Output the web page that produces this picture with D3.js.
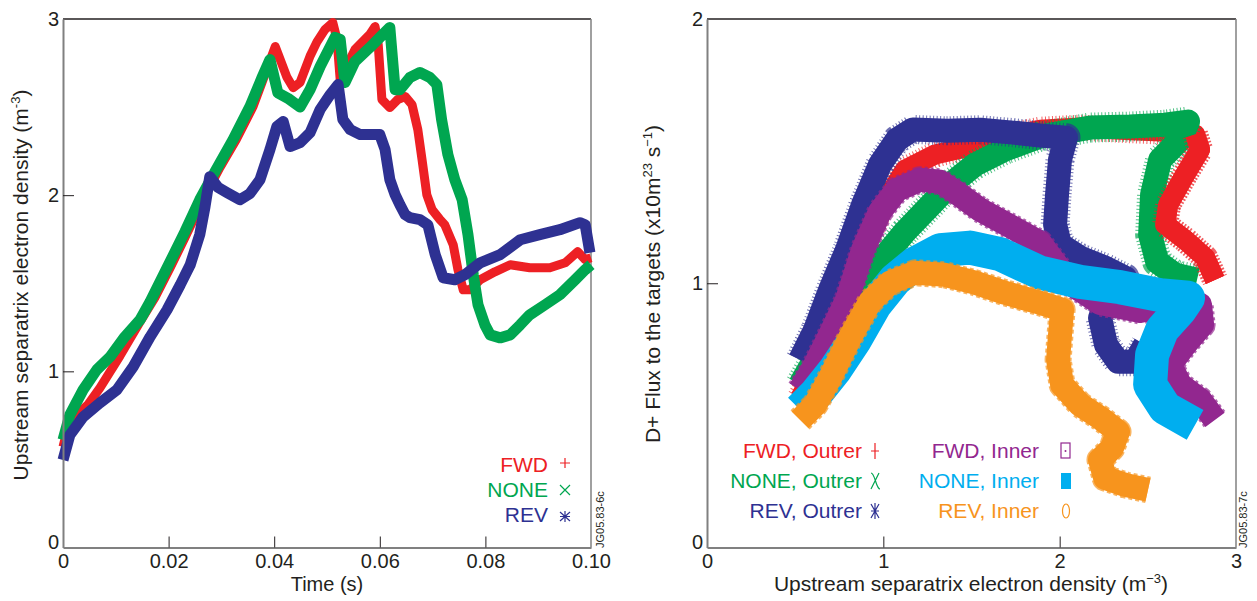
<!DOCTYPE html>
<html>
<head>
<meta charset="utf-8">
<script src="https://cdn.jsdelivr.net/npm/d3@7"></script>
<style>
  body { margin: 0; background: #fff; }
  svg { display: block; font-family: "Liberation Sans", Arial, Helvetica, sans-serif; }
</style>
</head>
<body>
<svg id="chart" width="1257" height="601"></svg>
<script>
// ---------- data: left panel, [time (s), density] ----------
const fwdDensity = [[0,0.571],[0.0013,0.724],[0.0032,0.770],[0.0047,0.810],[0.0070,0.906],[0.0108,1.088],[0.0146,1.281],[0.0174,1.418],[0.0203,1.588],[0.0231,1.759],[0.0265,1.974],[0.0297,2.156],[0.0328,2.315],[0.0360,2.503],[0.0388,2.730],[0.0402,2.844],[0.0424,2.670],[0.0436,2.610],[0.0449,2.640],[0.0468,2.790],[0.0481,2.870],[0.0496,2.940],[0.0511,2.980],[0.0519,2.884],[0.0525,2.656],[0.0534,2.713],[0.0553,2.827],[0.0581,2.912],[0.0591,2.957],[0.0597,2.855],[0.0604,2.543],[0.0619,2.497],[0.0634,2.543],[0.0648,2.560],[0.0661,2.514],[0.0672,2.372],[0.0680,2.202],[0.0689,2.003],[0.0699,1.918],[0.0714,1.861],[0.0723,1.832],[0.0739,1.719],[0.0748,1.577],[0.0758,1.463],[0.0771,1.463],[0.0790,1.520],[0.0818,1.565],[0.0847,1.605],[0.0884,1.588],[0.0922,1.588],[0.0951,1.616],[0.0975,1.679],[0.0989,1.634],[0.1,1.645]];
const noneDensity = [[0,0.611],[0.0013,0.753],[0.0038,0.895],[0.0064,1.009],[0.0089,1.082],[0.0117,1.196],[0.0146,1.293],[0.0165,1.395],[0.0199,1.599],[0.0231,1.793],[0.0259,1.974],[0.0288,2.134],[0.0322,2.315],[0.0354,2.503],[0.0377,2.668],[0.0392,2.770],[0.0407,2.580],[0.0426,2.550],[0.0449,2.500],[0.0468,2.600],[0.0487,2.730],[0.0515,2.895],[0.0525,2.884],[0.0534,2.639],[0.0553,2.759],[0.0581,2.838],[0.0600,2.895],[0.0619,2.952],[0.0629,2.599],[0.0638,2.599],[0.0657,2.668],[0.0676,2.696],[0.0695,2.668],[0.0708,2.628],[0.0717,2.429],[0.0729,2.230],[0.0742,2.088],[0.0756,1.974],[0.0767,1.776],[0.0777,1.548],[0.0786,1.378],[0.0799,1.264],[0.0809,1.207],[0.0828,1.190],[0.0847,1.207],[0.0866,1.264],[0.0884,1.321],[0.0913,1.378],[0.0941,1.435],[0.0970,1.520],[0.0989,1.577],[0.1,1.605]];
const revDensity = [[0,0.497],[0.0013,0.639],[0.0038,0.741],[0.0070,0.821],[0.0102,0.895],[0.0133,1.026],[0.0165,1.196],[0.0197,1.349],[0.0222,1.491],[0.0241,1.605],[0.0259,1.776],[0.0269,1.935],[0.0278,2.105],[0.0294,2.043],[0.0311,2.014],[0.0335,1.974],[0.0354,2.009],[0.0373,2.088],[0.0392,2.259],[0.0405,2.389],[0.0417,2.418],[0.0430,2.276],[0.0449,2.298],[0.0468,2.355],[0.0487,2.486],[0.0506,2.571],[0.0521,2.628],[0.0530,2.429],[0.0544,2.372],[0.0563,2.344],[0.0600,2.344],[0.0610,2.259],[0.0619,2.088],[0.0629,2.003],[0.0638,1.946],[0.0648,1.889],[0.0657,1.872],[0.0676,1.861],[0.0691,1.832],[0.0705,1.662],[0.0720,1.531],[0.0742,1.520],[0.0761,1.548],[0.0790,1.616],[0.0828,1.662],[0.0866,1.747],[0.0903,1.776],[0.0941,1.804],[0.0979,1.844],[0.0989,1.832],[0.0998,1.673]];

// ---------- data: right panel, [density, flux] ----------
const fwdOuter = [[0.528,0.566],[0.613,0.672],[0.726,0.862],[0.839,1.051],[0.981,1.278],[1.123,1.430],[1.293,1.487],[1.463,1.513],[1.662,1.551],[1.889,1.581],[2.116,1.589],[2.343,1.581],[2.570,1.574],[2.768,1.563],[2.796,1.506],[2.711,1.411],[2.615,1.297],[2.598,1.222],[2.711,1.165],[2.825,1.097],[2.881,1.013]];
const noneOuter = [[0.528,0.616],[0.641,0.748],[0.754,0.881],[0.868,0.983],[0.981,1.081],[1.123,1.195],[1.254,1.286],[1.378,1.373],[1.520,1.449],[1.690,1.506],[1.889,1.555],[2.172,1.589],[2.399,1.593],[2.598,1.600],[2.728,1.612],[2.683,1.544],[2.570,1.468],[2.524,1.335],[2.513,1.184],[2.553,1.081],[2.655,1.032],[2.779,1.013]];
const revOuter = [[0.528,0.710],[0.613,0.824],[0.698,0.975],[0.794,1.127],[0.885,1.297],[0.981,1.449],[1.078,1.544],[1.168,1.582],[1.361,1.577],[1.549,1.581],[1.736,1.570],[1.889,1.559],[2.036,1.551],[2.002,1.468],[1.985,1.335],[1.974,1.222],[2.002,1.146],[2.116,1.097],[2.258,1.059],[2.371,1.021],[2.286,0.956],[2.229,0.869],[2.263,0.767],[2.331,0.703],[2.428,0.703],[2.484,0.767]];
const fwdInner = [[0.528,0.597],[0.613,0.691],[0.698,0.805],[0.794,0.938],[0.885,1.127],[0.981,1.271],[1.078,1.354],[1.208,1.392],[1.322,1.384],[1.407,1.347],[1.549,1.278],[1.736,1.210],[1.889,1.153],[2.059,1.000],[2.229,0.925],[2.456,0.895],[2.683,0.925],[2.796,0.919],[2.808,0.843],[2.711,0.767],[2.626,0.691],[2.683,0.616],[2.796,0.559],[2.881,0.483]];
const noneInner = [[0.528,0.521],[0.613,0.578],[0.726,0.672],[0.839,0.786],[0.953,0.919],[1.066,1.013],[1.180,1.075],[1.322,1.125],[1.492,1.135],[1.662,1.110],[1.889,1.040],[2.116,1.005],[2.343,0.985],[2.570,0.955],[2.728,0.945],[2.683,0.900],[2.581,0.824],[2.524,0.729],[2.513,0.616],[2.598,0.528],[2.768,0.464]];
const revInner = [[0.528,0.483],[0.613,0.540],[0.698,0.642],[0.811,0.794],[0.925,0.930],[1.038,1.002],[1.180,1.040],[1.350,1.032],[1.520,1.002],[1.690,0.964],[1.889,0.926],[2.014,0.900],[2.002,0.805],[1.991,0.710],[2.014,0.616],[2.116,0.540],[2.229,0.491],[2.331,0.438],[2.297,0.377],[2.229,0.331],[2.258,0.263],[2.371,0.237],[2.501,0.218]];

// ---------- ticks and labels ----------
const leftXTicks = [0, 0.02, 0.04, 0.06, 0.08, 0.10];
const leftYTicks = [0, 1, 2, 3];
const rightXTicks = [0, 1, 2, 3];
const rightYTicks = [0, 1, 2];
const leftLegend = ["FWD", "NONE", "REV"];
const rightLegendOuter = ["FWD, Outrer", "NONE, Outrer", "REV, Outrer"];
const rightLegendInner = ["FWD, Inner", "NONE, Inner", "REV, Inner"];

const RED = "#ed2024", GREEN = "#00a650", BLUE = "#2e3192";
const PURPLE = "#92278f", CYAN = "#00aeef", ORANGE = "#f7941d";
const INK = "#231f20", AXIS = "#808080";

const svg = d3.select("#chart");

// ---------- scales ----------
const xL = d3.scaleLinear().domain([0, 0.1]).range([63, 591]);
const yL = d3.scaleLinear().domain([0, 3]).range([547.5, 19]);
const xR = d3.scaleLinear().domain([0, 3]).range([707, 1236]);
const yR = d3.scaleLinear().domain([0, 2]).range([547.5, 19]);

function frame(x, y) {
    const [x0, x1] = x.range(), [y0, y1] = y.range();
    svg.append("line").attr("x1", x0).attr("x2", x1).attr("y1", y1).attr("y2", y1)
        .attr("stroke", INK).attr("stroke-width", 1.5);
    svg.append("line").attr("x1", x1).attr("x2", x1).attr("y1", y1).attr("y2", y0)
        .attr("stroke", AXIS).attr("stroke-width", 1.5);
}

function axes(x, y, xticks, yticks, fmt) {
    const gx = svg.append("g").attr("transform", `translate(0,${y.range()[0]})`)
        .call(d3.axisBottom(x).tickValues(xticks).tickFormat(fmt).tickSize(-11).tickSizeOuter(0).tickPadding(6));
    const gy = svg.append("g").attr("transform", `translate(${x.range()[0]},0)`)
        .call(d3.axisLeft(y).tickValues(yticks).tickFormat(d3.format("d")).tickSize(-11).tickSizeOuter(0).tickPadding(4));
    [gx, gy].forEach(g => {
        g.select(".domain").attr("stroke", AXIS).attr("stroke-width", 2);
        g.selectAll(".tick line").attr("stroke", INK).attr("stroke-width", 1);
        g.selectAll(".tick text").attr("fill", INK).style("font-size", "20px")
            .style("font-family", '"Liberation Sans", Arial, sans-serif');
    });
    // no tick marks at the corners
    gx.selectAll(".tick line").filter(d => d === xticks[0] || d === xticks[xticks.length - 1]).remove();
    gy.selectAll(".tick line").filter(d => d === yticks[0] || d === yticks[yticks.length - 1]).remove();
    gy.selectAll(".tick text").filter(d => d === 0).attr("dy", "0.05em");
}

// a thick band with hairy edges, drawn through the scales
function band(data, x, y, color, width, fuzz, dash) {
    const line = d3.line().x(d => x(d[0])).y(d => y(d[1]));
    if (fuzz > 0) {
        svg.append("path").attr("d", line(data)).attr("fill", "none")
            .attr("stroke", color).attr("stroke-width", width + fuzz)
            .attr("stroke-dasharray", dash).attr("stroke-linejoin", "round")
            .attr("opacity", 0.7);
    }
    svg.append("path").attr("d", line(data)).attr("fill", "none")
        .attr("stroke", color).attr("stroke-width", width)
        .attr("stroke-linejoin", "round").attr("stroke-linecap", "butt");
}

// ---------- left panel ----------
frame(xL, yL);
band(fwdDensity, xL, yL, RED, 9, 0);
band(noneDensity, xL, yL, GREEN, 11, 0);
band(revDensity, xL, yL, BLUE, 11, 0);
axes(xL, yL, leftXTicks, leftYTicks, d => d === 0 ? "0" : d.toFixed(2));

svg.append("text").attr("x", 327).attr("y", 591).attr("text-anchor", "middle")
    .attr("fill", INK).style("font-size", "20px").text("Time (s)");

const ltitle = svg.append("text").attr("transform", "translate(28,285) rotate(-90)")
    .attr("text-anchor", "middle").attr("fill", INK).style("font-size", "21px");
ltitle.append("tspan").text("Upstream separatrix electron density (m");
ltitle.append("tspan").attr("dy", -8).style("font-size", "13px").text("-3");
ltitle.append("tspan").attr("dy", 8).text(")");

const leftColors = [RED, GREEN, BLUE];
leftLegend.forEach((name, i) => {
    svg.append("text").attr("x", 548).attr("y", 472 + i * 25).attr("text-anchor", "end")
        .attr("fill", leftColors[i]).style("font-size", "21px").text(name);
});
// legend markers: plus, cross, asterisk
const lm = svg.append("g").attr("fill", "none").attr("stroke-width", 1.2);
lm.append("path").attr("stroke", RED).attr("d", "M565,458v10M560,463h10");
lm.append("path").attr("stroke", GREEN).attr("d", "M560,485l10,10M570,485l-10,10");
lm.append("path").attr("stroke", BLUE).attr("d", "M565,511v11M560,512l10,9M570,512l-10,9M560,516.5h10");

svg.append("text").attr("transform", "translate(604,548) rotate(-90)")
    .attr("fill", INK).style("font-size", "11px").text("JG05.83-6c");

// ---------- right panel ----------
frame(xR, yR);
band(fwdOuter, xR, yR, RED, 20, 6, "1 2.5");
band(noneOuter, xR, yR, GREEN, 24, 6, "1 2.5");
// the FWD outer tail sits on top of the NONE band
band(fwdOuter.slice(13), xR, yR, RED, 20, 6, "1 2.5");
band(revOuter, xR, yR, BLUE, 24, 5, "1 2.5");
band(fwdInner, xR, yR, PURPLE, 24, 3, "3 3");
band(noneInner, xR, yR, CYAN, 34, 0);
band(revInner, xR, yR, ORANGE, 24, 3, "4 3");
axes(xR, yR, rightXTicks, rightYTicks, d3.format("d"));

const rx = svg.append("text").attr("x", 971).attr("y", 591).attr("text-anchor", "middle")
    .attr("fill", INK).style("font-size", "21px");
rx.append("tspan").text("Upstream separatrix electron density (m");
rx.append("tspan").attr("dy", -8).style("font-size", "13px").text("\u22123");
rx.append("tspan").attr("dy", 8).text(")");

const ry = svg.append("text").attr("transform", "translate(660,284) rotate(-90)")
    .attr("text-anchor", "middle").attr("fill", INK).style("font-size", "21px");
ry.append("tspan").text("D+ Flux to the targets (x10m");
ry.append("tspan").attr("dy", -8).style("font-size", "13px").text("23");
ry.append("tspan").attr("dy", 8).text(" s");
ry.append("tspan").attr("dy", -8).style("font-size", "13px").text("\u22121");
ry.append("tspan").attr("dy", 8).text(")");

const outerColors = [RED, GREEN, BLUE];
const innerColors = [PURPLE, CYAN, ORANGE];
rightLegendOuter.forEach((name, i) => {
    svg.append("text").attr("x", 862).attr("y", 458 + i * 30).attr("text-anchor", "end")
        .attr("fill", outerColors[i]).style("font-size", "21px").text(name);
});
rightLegendInner.forEach((name, i) => {
    svg.append("text").attr("x", 1039).attr("y", 458 + i * 30).attr("text-anchor", "end")
        .attr("fill", innerColors[i]).style("font-size", "21px").text(name);
});
const rm = svg.append("g").attr("fill", "none").attr("stroke-width", 1.2);
rm.append("path").attr("stroke", RED).attr("d", "M875,443v16M871,451h8");
rm.append("path").attr("stroke", GREEN).attr("d", "M871,473c4,0 5,16 9,16M879,473l-8,16");
rm.append("path").attr("stroke", BLUE).attr("d", "M875,503v16M871,504l8,14M879,504l-8,14M871,511h8");
rm.append("rect").attr("stroke", PURPLE).attr("x", 1061).attr("y", 443).attr("width", 9).attr("height", 15);
rm.append("circle").attr("fill", PURPLE).attr("cx", 1065.5).attr("cy", 451).attr("r", 1);
svg.append("rect").attr("fill", CYAN).attr("x", 1061).attr("y", 473).attr("width", 10).attr("height", 16);
rm.append("ellipse").attr("stroke", ORANGE).attr("cx", 1066).attr("cy", 511).attr("rx", 3.5).attr("ry", 7);

svg.append("text").attr("transform", "translate(1247,548) rotate(-90)")
    .attr("fill", INK).style("font-size", "11px").text("JG05.83-7c");
</script>
</body>
</html>
